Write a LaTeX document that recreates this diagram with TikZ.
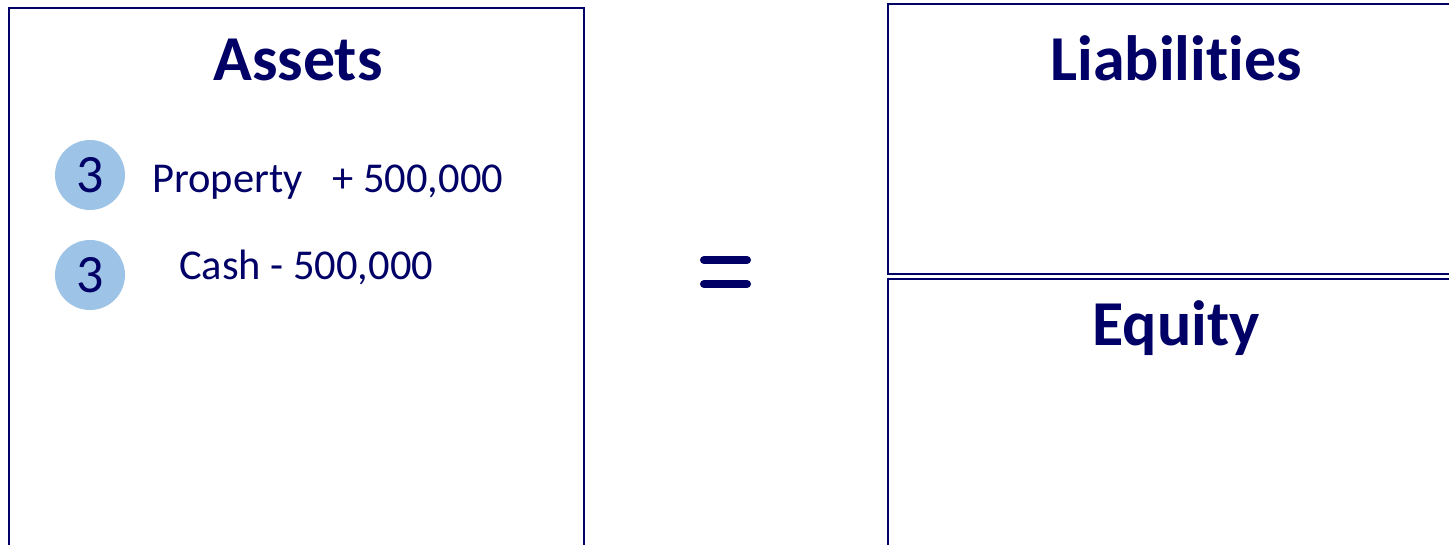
\documentclass[tikz,border=0pt]{standalone}
\usepackage{fontspec}
\setmainfont{Carlito}[Ligatures={NoCommon}]
\definecolor{navy}{HTML}{000066}
\definecolor{bubble}{HTML}{9DC3E6}
\begin{document}
\begin{tikzpicture}[x=1pt,y=-1pt,
  panel/.style={draw=navy,line width=2pt},
  title/.style={text=navy,font=\bfseries\fontsize{64}{76}\selectfont,inner sep=0pt,anchor=base},
  entry/.style={text=navy,font=\fontsize{42.5}{50}\selectfont,inner sep=0pt,anchor=base west},
  badge/.style={circle,fill=bubble,minimum size=70pt,inner sep=0pt,text=navy,font=\fontsize{54}{60}\selectfont},
  bar/.style={draw=navy,line width=8pt,line cap=round}]
\clip (0,0) rectangle (1449,544);
\fill[white] (0,0) rectangle (1449,544);
% panels
\draw[panel] (9,8) rectangle (584,570);
\draw[panel] (888,4) rectangle (1470,274);
\draw[panel] (888,279) rectangle (1470,570);
% titles
\node[title] (assets) at (298,80) {Assets};
\node[title] (liab) at (1176,80) {Liabilities};
\node[title] (equity) at (1176,345) {Equity};
% entries
\node[badge] (b1) at (90,175) {3};
\node[badge] (b2) at (90,275) {3};
\node[entry] (e1) at (152,192) {Property\hspace{30pt}+ 500,000};
\node[entry] (e2) at (179,279) {Cash - 500,000};
% equals sign
\coordinate (q1a) at (704,260); \coordinate (q1b) at (747,260);
\coordinate (q2a) at (704,284); \coordinate (q2b) at (747,284);
\draw[bar] (q1a) -- (q1b);
\draw[bar] (q2a) -- (q2b);
\end{tikzpicture}
\end{document}
